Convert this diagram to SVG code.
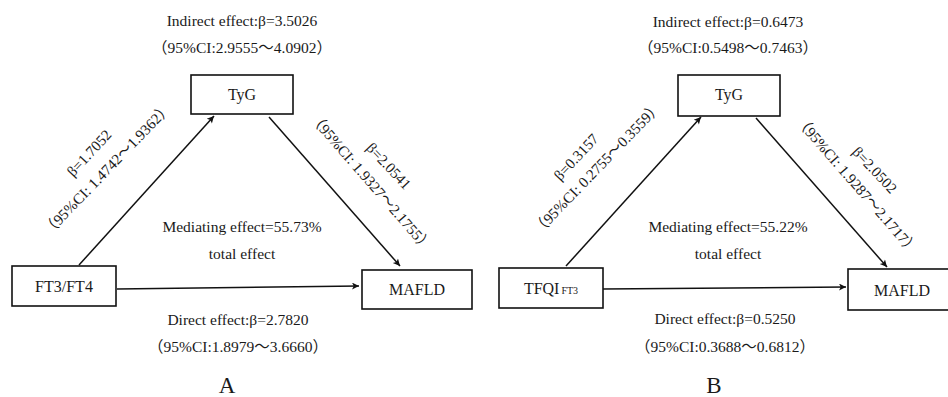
<svg xmlns="http://www.w3.org/2000/svg" width="948" height="397" viewBox="0 0 948 397">
<style>
  .bg{fill:#fff}
  .box{fill:#fff;stroke:#111;stroke-width:1.6}
  .ln{stroke:#111;stroke-width:1.5;fill:none;marker-end:url(#ah)}
  text{font-family:"Liberation Serif","Noto Sans CJK SC",serif;fill:#1a1a1a}
  .t{font-size:15.5px;text-anchor:middle}
  .n{font-size:16px;text-anchor:middle}
  .r{font-size:15px;text-anchor:middle}
  .p{font-size:23px;text-anchor:middle}
  .sub{font-size:10px}
</style>
<defs>
  <marker id="ah" viewBox="0 0 10 10" refX="10" refY="5" markerWidth="9" markerHeight="7" markerUnits="userSpaceOnUse" orient="auto">
    <path d="M0,0 L10,5 L0,10 L2.5,5 Z" fill="#111"/>
  </marker>
</defs>
<rect class="bg" x="0" y="0" width="948" height="397"/>

<g id="connectors">
  <line class="ln" x1="79" y1="265" x2="214" y2="116"/>
  <line class="ln" x1="269" y1="117" x2="400" y2="266"/>
  <line class="ln" x1="117" y1="289" x2="359" y2="286"/>
  <line class="ln" x1="566" y1="266" x2="701" y2="117"/>
  <line class="ln" x1="756" y1="118" x2="887" y2="267"/>
  <line class="ln" x1="603" y1="289" x2="846" y2="287"/>
</g>

<g id="panelA-TyG">
  <rect class="box" x="191" y="75" width="102" height="39"/>
  <text class="n" x="242" y="100">TyG</text>
</g>
<g id="panelA-FT3FT4">
  <rect class="box" x="12" y="266" width="104" height="40"/>
  <text class="n" x="64" y="292">FT3/FT4</text>
</g>
<g id="panelA-MAFLD">
  <rect class="box" x="362" y="270" width="110" height="39"/>
  <text class="n" x="417" y="295">MAFLD</text>
</g>

<g id="panelA-labels">
  <text class="t" x="242" y="26">Indirect effect:β=3.5026</text>
  <text class="t" x="242" y="53">（95%CI:2.9555～4.0902）</text>
  <text class="t" x="242" y="232">Mediating effect=55.73%</text>
  <text class="t" x="242" y="259">total effect</text>
  <text class="t" x="238" y="325">Direct effect:β=2.7820</text>
  <text class="t" x="238" y="352">（95%CI:1.8979～3.6660）</text>
  <text class="r" transform="translate(89,153) rotate(-47)" dy="0.35em">β=1.7052</text>
  <text class="r" transform="translate(107,169) rotate(-46)" dy="0.35em">（95%CI: 1.4742～1.9362）</text>
  <text class="r" transform="translate(389,166) rotate(47)" dy="0.35em">β=2.0541</text>
  <text class="r" transform="translate(371,182) rotate(49)" dy="0.35em">（95%CI: 1.9327～2.1755）</text>
  <text class="p" x="227" y="393">A</text>
</g>

<g id="panelB-TyG">
  <rect class="box" x="678" y="75" width="102" height="41"/>
  <text class="n" x="729" y="100">TyG</text>
</g>
<g id="panelB-TFQI">
  <rect class="box" x="499" y="268" width="104" height="40"/>
  <text class="n" x="551" y="294">TFQI<tspan class="sub" dx="2">FT3</tspan></text>
</g>
<g id="panelB-MAFLD">
  <rect class="box" x="848" y="269" width="110" height="41"/>
  <text class="n" x="902" y="296">MAFLD</text>
</g>

<g id="panelB-labels">
  <text class="t" x="728" y="27">Indirect effect:β=0.6473</text>
  <text class="t" x="728" y="53">（95%CI:0.5498～0.7463）</text>
  <text class="t" x="728" y="232">Mediating effect=55.22%</text>
  <text class="t" x="728" y="259">total effect</text>
  <text class="t" x="725" y="324">Direct effect:β=0.5250</text>
  <text class="t" x="725" y="352">（95%CI:0.3688～0.6812）</text>
  <text class="r" transform="translate(576,157) rotate(-47)" dy="0.35em">β=0.3157</text>
  <text class="r" transform="translate(597,168) rotate(-46)" dy="0.35em">（95%CI: 0.2755～0.3559）</text>
  <text class="r" transform="translate(875,170) rotate(47)" dy="0.35em">β=2.0502</text>
  <text class="r" transform="translate(857,185) rotate(49)" dy="0.35em">（95%CI: 1.9287～2.1717）</text>
  <text class="p" x="714" y="393">B</text>
</g>
</svg>
